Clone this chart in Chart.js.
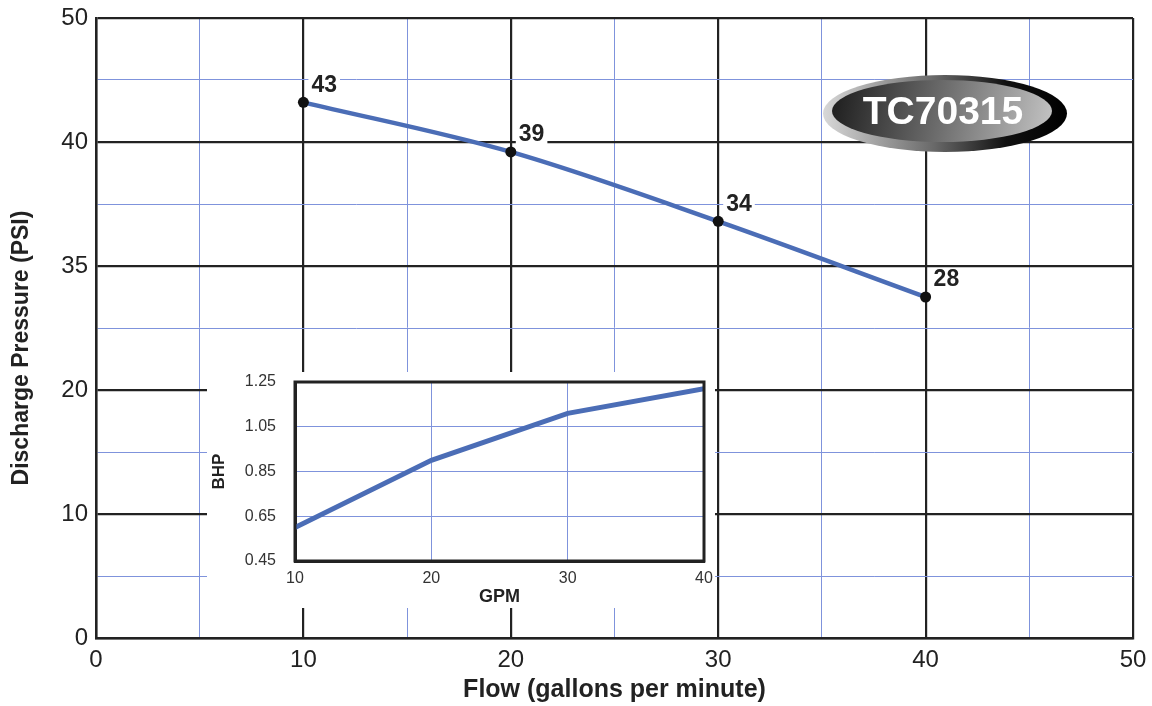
<!DOCTYPE html>
<html>
<head>
<meta charset="utf-8">
<script src="https://cdn.jsdelivr.net/npm/chart.js@4.4.0/dist/chart.umd.min.js"></script>
<style>
  body { margin: 0; background: #fff; }
  #wrap { position: relative; width: 1152px; height: 706px; }
  #inset-box { position: absolute; left: 207px; top: 372px; width: 508px; height: 236px; background: #fff; }
</style>
</head>
<body>
<div id="wrap">
  <canvas id="mainChart" width="1152" height="706"></canvas>
  <div id="inset-box"><canvas id="bhpChart" width="508" height="236"></canvas></div>
</div>
<script>
// main pump curve
const flowGpm = [10, 20, 30, 40];
const pressurePsi = [43.2, 39.2, 33.6, 27.5];
const pressureLabels = ['43', '39', '34', '28'];
const yTickLabels = ['0', '10', '20', '35', '40', '50'];

// inset BHP curve
const bhpGpm = [10, 20, 30, 40];
const bhpValues = [0.60, 0.90, 1.11, 1.22];
const bhpTicks = [0.45, 0.65, 0.85, 1.05, 1.25];
const bhpGpmTicks = [10, 20, 30, 40];

const modelName = 'TC70315';
const yTitle = 'Discharge Pressure (PSI)';

const lineBlue = '#4b6db6';
const gridBlue = '#7f93dc';
const ink = '#222';
const fontFam = '"Liberation Sans", Arial, sans-serif';

Chart.defaults.font.family = fontFam;
Chart.defaults.color = ink;

// drop the label overhang so the layout padding alone places the plot
const noOverhang = s => {
    s.paddingTop = 0; s.paddingBottom = 0;
    s.paddingLeft = 0; s.paddingRight = 0;
};

const pointLabels = {
    id: 'pointLabels',
    afterDatasetsDraw(chart) {
        const ctx = chart.ctx;
        const meta = chart.getDatasetMeta(0);
        ctx.save();
        ctx.font = 'bold 23px ' + fontFam;
        ctx.textBaseline = 'middle';
        meta.data.forEach((pt, i) => {
            const txt = pressureLabels[i];
            const x = pt.x + 8, y = pt.y - 17;
            const w = ctx.measureText(txt).width;
            ctx.fillStyle = '#fff';
            ctx.fillRect(x - 3, y - 12, w + 6, 24);
            ctx.fillStyle = ink;
            ctx.fillText(txt, x, y);
        });
        ctx.restore();
    }
};

// y title sits a bit below the plot middle in the original
const sideTitle = {
    id: 'sideTitle',
    afterDraw(chart) {
        const ctx = chart.ctx;
        ctx.save();
        ctx.translate(22, 348);
        ctx.rotate(-Math.PI / 2);
        ctx.font = 'bold 23px ' + fontFam;
        ctx.fillStyle = ink;
        ctx.textAlign = 'center';
        ctx.textBaseline = 'middle';
        ctx.fillText(yTitle, 0, 0);
        ctx.restore();
    }
};

const badge = {
    id: 'badge',
    afterDraw(chart) {
        const ctx = chart.ctx;
        ctx.save();
        // outer ring
        let g = ctx.createLinearGradient(823, 0, 1067, 0);
        g.addColorStop(0, '#d8d8d8');
        g.addColorStop(0.45, '#6a6a6a');
        g.addColorStop(0.75, '#111');
        g.addColorStop(1, '#000');
        ctx.fillStyle = g;
        ctx.beginPath();
        ctx.ellipse(945, 113.5, 122, 38.5, 0, 0, Math.PI * 2);
        ctx.fill();
        // inner face
        g = ctx.createLinearGradient(833, 90, 1052, 135);
        g.addColorStop(0, '#1e1e1e');
        g.addColorStop(0.5, '#6e6e6e');
        g.addColorStop(1, '#c4c4c4');
        ctx.fillStyle = g;
        ctx.beginPath();
        ctx.ellipse(942, 111, 110, 31, 0, 0, Math.PI * 2);
        ctx.fill();
        ctx.fillStyle = '#fff';
        ctx.font = 'bold 39px ' + fontFam;
        ctx.textAlign = 'center';
        ctx.textBaseline = 'middle';
        ctx.fillText(modelName, 943, 113);
        ctx.restore();
    }
};

const isMajor = v => v % 10 === 0;

new Chart(document.getElementById('mainChart'), {
    type: 'line',
    data: {
        datasets: [{
            data: flowGpm.map((x, i) => ({ x: x, y: pressurePsi[i] })),
            borderColor: lineBlue,
            borderWidth: 4.5,
            tension: 0.4,
            cubicInterpolationMode: 'monotone',
            pointRadius: 5.5,
            pointBackgroundColor: '#111',
            pointBorderColor: '#111',
            pointBorderWidth: 0
        }]
    },
    options: {
        responsive: false,
        animation: false,
        devicePixelRatio: 1,
        layout: { padding: { left: 8, right: 19, top: 18, bottom: 1 } },
        plugins: { legend: { display: false }, tooltip: { enabled: false } },
        scales: {
            x: {
                type: 'linear', min: 0, max: 50,
                ticks: {
                    stepSize: 5, padding: 8,
                    font: { size: 24 }, color: ink,
                    callback: v => isMajor(v) ? String(v) : ''
                },
                grid: {
                    drawTicks: false,
                    color: c => isMajor(c.tick.value) ? ink : gridBlue,
                    lineWidth: c => isMajor(c.tick.value) ? 2.2 : 1
                },
                border: { color: ink, width: 2.5 },
                title: { display: true, text: 'Flow (gallons per minute)', font: { size: 25, weight: 'bold' }, color: ink, padding: 0 },
                afterFit: s => { noOverhang(s); s.height = 67; }
            },
            y: {
                type: 'linear', min: 0, max: 50,
                ticks: {
                    stepSize: 5, padding: 8,
                    font: { size: 24 }, color: ink,
                    callback: v => isMajor(v) ? yTickLabels[v / 10] : ''
                },
                grid: {
                    drawTicks: false,
                    color: c => isMajor(c.tick.value) ? ink : gridBlue,
                    lineWidth: c => isMajor(c.tick.value) ? 2.2 : 1
                },
                border: { color: ink, width: 2.5 },
                afterFit: s => { noOverhang(s); s.width = 88; }
            }
        }
    },
    plugins: [pointLabels, sideTitle, badge]
});

new Chart(document.getElementById('bhpChart'), {
    type: 'line',
    data: {
        datasets: [{
            data: bhpGpm.map((x, i) => ({ x: x, y: bhpValues[i] })),
            borderColor: lineBlue,
            borderWidth: 5,
            tension: 0,
            pointRadius: 0
        }]
    },
    options: {
        responsive: false,
        animation: false,
        devicePixelRatio: 1,
        layout: { padding: { left: 0, right: 11, top: 10, bottom: 0 } },
        plugins: { legend: { display: false }, tooltip: { enabled: false } },
        scales: {
            x: {
                type: 'linear', min: 10, max: 40,
                afterBuildTicks: s => { s.ticks = bhpGpmTicks.map(v => ({ value: v })); },
                ticks: { padding: 8, font: { size: 16 }, color: '#333' },
                grid: { drawTicks: false, color: gridBlue, lineWidth: 1 },
                border: { color: ink, width: 3 },
                title: { display: true, text: 'GPM', font: { size: 18, weight: 'bold' }, color: ink, padding: 0 },
                afterFit: s => { noOverhang(s); s.height = 47; }
            },
            y: {
                type: 'linear', min: 0.45, max: 1.25,
                afterBuildTicks: s => { s.ticks = bhpTicks.map(v => ({ value: v })); },
                ticks: { padding: 19, font: { size: 16 }, color: '#333', callback: v => v.toFixed(2) },
                grid: { drawTicks: false, color: gridBlue, lineWidth: 1 },
                border: { color: ink, width: 3 },
                title: { display: true, text: 'BHP', font: { size: 17, weight: 'bold' }, color: ink, padding: 2 },
                afterFit: s => { noOverhang(s); s.width = 88; }
            }
        }
    },
    plugins: [{
        id: 'insetFrame',
        afterDraw(chart) {
            const a = chart.chartArea, ctx = chart.ctx;
            ctx.save();
            ctx.strokeStyle = ink;
            ctx.lineWidth = 3;
            ctx.strokeRect(a.left, a.top, a.right - a.left, a.bottom - a.top);
            ctx.restore();
        }
    }]
});
</script>
</body>
</html>
